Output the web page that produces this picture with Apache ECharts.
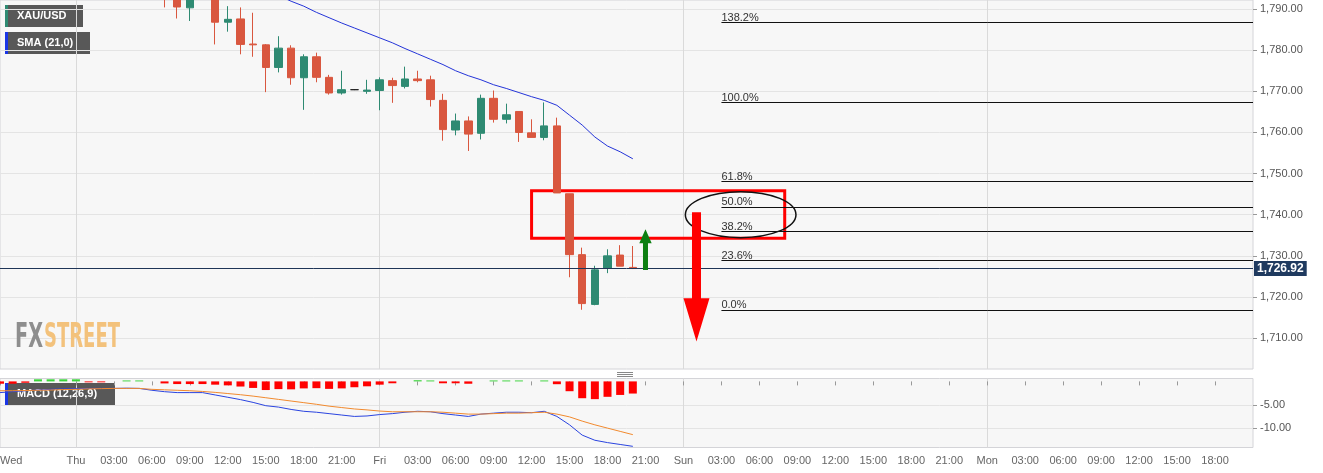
<!DOCTYPE html>
<html>
<head>
<meta charset="utf-8">
<script src="https://cdn.jsdelivr.net/npm/echarts@6/dist/echarts.min.js"></script>
<style>html,body{margin:0;padding:0;background:#fff}#c{width:1323px;height:473px}</style>
</head>
<body>
<div id="c"></div>
<script>
// ---------- data ----------
const dayNames = ['Wed', 'Thu', 'Fri', 'Sun', 'Mon'];
const startHour = 18;          // first hourly slot: Wed 18:00 (Saturday is skipped)
const hourCount = 100;         // Wed 18:00 .. Mon 21:00

const candleStart = 13;        // Thu 07:00
// [open, close, low, high]
const candles = [
  [1796.0, 1793.0, 1790.4, 1798.0],
  [1794.5, 1790.5, 1787.7, 1795.5],
  [1790.3, 1793.5, 1787.1, 1795.0],
  [1794.0, 1795.0, 1792.6, 1797.0],
  [1793.5, 1786.8, 1781.4, 1794.5],
  [1786.8, 1787.5, 1784.5, 1790.7],
  [1787.6, 1781.4, 1779.0, 1790.4],
  [1781.5, 1781.3, 1778.4, 1789.1],
  [1781.3, 1775.8, 1769.8, 1781.5],
  [1775.8, 1780.5, 1774.6, 1783.4],
  [1780.5, 1773.3, 1771.6, 1781.2],
  [1773.3, 1778.4, 1765.5, 1779.0],
  [1778.4, 1773.4, 1772.2, 1779.4],
  [1773.4, 1769.6, 1769.2, 1774.0],
  [1769.6, 1770.4, 1769.2, 1775.0],
  [1770.4, 1770.4, 1770.3, 1770.5],
  [1770.0, 1770.3, 1769.4, 1772.8],
  [1770.2, 1772.8, 1765.4, 1773.4],
  [1772.6, 1771.4, 1767.2, 1773.3],
  [1771.2, 1773.0, 1770.7, 1776.0],
  [1773.0, 1772.6, 1772.2, 1775.0],
  [1772.8, 1768.0, 1766.3, 1773.8],
  [1767.8, 1760.7, 1758.0, 1769.4],
  [1760.6, 1762.8, 1759.3, 1764.6],
  [1762.8, 1759.6, 1755.5, 1763.9],
  [1759.8, 1768.3, 1758.3, 1769.2],
  [1768.3, 1763.2, 1762.4, 1770.2],
  [1763.2, 1764.3, 1762.2, 1767.0],
  [1765.1, 1760.0, 1757.7, 1765.1],
  [1759.9, 1758.8, 1758.8, 1763.2],
  [1758.8, 1761.6, 1758.1, 1767.3],
  [1761.6, 1745.3, 1745.3, 1763.6],
  [1745.1, 1730.3, 1724.8, 1745.1],
  [1730.3, 1718.4, 1716.9, 1732.0],
  [1718.2, 1726.6, 1718.0, 1727.6],
  [1727.0, 1730.0, 1725.8, 1731.6],
  [1730.2, 1727.5, 1727.5, 1732.6],
  [1727.2, 1726.92, 1726.8, 1732.4]
];

const smaStart = 22;
const sma = [1793.3, 1791.9, 1790.7, 1789.2, 1787.9, 1786.6, 1785.4, 1784.2, 1783.0, 1781.8,
  1780.4, 1779.1, 1777.8, 1776.5, 1775.0, 1773.8, 1772.8, 1771.6, 1770.7, 1769.7,
  1768.7, 1767.8, 1766.6, 1764.2, 1761.8, 1758.9, 1756.7, 1755.3, 1753.6];

// MACD panel, from Wed 18:00
const macdLine = [-2.4, -2.2, -2.0, -1.85, -1.7, -1.6, -1.55, -1.5, -1.5, -1.5,
  -1.45, -1.5, -1.9, -2.2, -2.4, -2.4, -2.4, -2.9, -3.4, -3.9,
  -4.5, -5.2, -5.5, -6.0, -6.4, -6.6, -6.9, -7.2, -7.5, -7.4,
  -7.1, -6.9, -6.6, -6.4, -6.5, -6.9, -7.2, -7.5, -7.0, -6.8,
  -6.6, -6.6, -6.7, -6.4, -7.5, -9.3, -11.5, -12.6, -13.1, -13.5, -13.9];
const signalLine = [-2.0, -2.0, -1.95, -1.9, -1.85, -1.75, -1.7, -1.6, -1.55, -1.5,
  -1.5, -1.5, -1.7, -1.8, -1.9, -2.0, -2.15, -2.35, -2.6, -2.85,
  -3.15, -3.5, -3.85, -4.2, -4.55, -4.9, -5.3, -5.6, -5.9, -6.1,
  -6.35, -6.5, -6.5, -6.5, -6.5, -6.6, -6.8, -7.0, -7.0, -6.9,
  -6.8, -6.8, -6.7, -6.6, -7.0, -7.6, -8.5, -9.3, -10.0, -10.7, -11.4];
const histogram = [-0.5, -0.5, -0.3, 0.45, 0.45, 0.45, 0.45, -0.2, -0.2, 0,
  0.2, 0.2, 0, -0.43, -0.57, -0.57, -0.57, -0.7, -0.85, -1.1,
  -1.4, -1.85, -1.65, -1.7, -1.5, -1.45, -1.6, -1.5, -1.25, -1.05,
  -0.7, -0.4, 0, 0.25, 0.2, -0.4, -0.4, -0.5, 0, 0.2,
  0.2, 0.2, 0, 0.2, -0.6, -2.1, -3.6, -3.8, -3.3, -2.9, -2.6];

const fibLabels = ['0.0%', '23.6%', '38.2%', '50.0%', '61.8%', '100.0%', '138.2%'];
const fibLevels = [1716.9, 1728.85, 1735.9, 1741.9, 1748.05, 1767.3, 1786.7];
const fibStart = 57;   // Sun 03:00

const lastPrice = 1726.92;
const priceTicks = [1710, 1720, 1730, 1740, 1750, 1760, 1770, 1780, 1790];
const macdTicks = [-10, -5];

// drawn annotations (data coordinates)
const zoneBox = { from: 42, to: 62, top: 1745.86, bottom: 1734.29 };
const ellipseMark = { x: 58.52, rx: 4.37, y: 1740.02, ry: 5.59 };
const upArrow = { x: 51, base: 1726.59, head: 1733.08, tip: 1736.48 };
const downArrow = { x: 55.03, base: 1740.61, head: 1719.71, tip: 1709.17 };

// ---------- helpers ----------
const categories = [];
for (let i = 0; i < hourCount; i++) {
  const h = (startHour + i) % 24;
  const d = Math.floor((startHour + i) / 24);
  categories.push(dayNames[d] + ' ' + (h < 10 ? '0' : '') + h + ':00');
}
function labelFor(i) {
  const h = (startHour + i) % 24;
  const d = Math.floor((startHour + i) / 24);
  if (i === 0 || h === 0) return dayNames[d];
  return (h < 10 ? '0' : '') + h + ':00';
}
const isLabelIdx = (i) => i % 3 === 0 && i !== 3 && i < hourCount - 1;
const isDayStart = (i) => (startHour + i) % 24 === 0;
const fmtPrice = (v) => Number(v).toLocaleString('en-US', { minimumFractionDigits: 2, maximumFractionDigits: 2 });

const candleData = candles.map((c, k) => [candleStart + k, c[0], c[1], c[2], c[3]]);
const smaData = sma.map((v, k) => [smaStart + k, v]);
const macdData = macdLine.map((v, k) => [k, v]);
const signalData = signalLine.map((v, k) => [k, v]);
const histData = histogram.map((v, k) => [k, v]);

const fibMarks = fibLevels.map((v, k) => [
  { name: fibLabels[k], coord: [categories[fibStart], v],
    lineStyle: { color: '#111', width: 1, type: 'solid' },
    label: { show: true, position: 'insideStartTop', formatter: '{b}', color: '#333', fontSize: 11, distance: [0, -1] } },
  { coord: [categories[hourCount - 1], v] }
]);

function measure(text, font) {
  const cv = document.createElement('canvas').getContext('2d');
  cv.font = font;
  return cv.measureText(text).width;
}
const wmFont = 'bold 22px "DejaVu Sans Condensed", "DejaVu Sans"';
const fxScale = 28 / measure('FX', wmFont);
const stScale = 76 / measure('STREET', wmFont);

function legendBox(x, y, w, stripColor, text) {
  return {
    type: 'group', x: x, y: y, z: 20,
    children: [
      { type: 'rect', shape: { x: 0, y: 0, width: w, height: 22 }, style: { fill: 'rgba(66,66,66,0.88)' } },
      { type: 'rect', shape: { x: 0, y: 0, width: 3, height: 22 }, style: { fill: stripColor } },
      { type: 'text', x: 12, y: 11, style: { text: text, fill: '#fff', font: 'bold 11px "Liberation Sans", Arial', textVerticalAlign: 'middle' } }
    ]
  };
}

// ---------- chart ----------
const chart = echarts.init(document.getElementById('c'));
const option = {
  animation: false,
  backgroundColor: '#ffffff',
  textStyle: { fontFamily: '"Liberation Sans", Arial, sans-serif' },
  grid: [
    { left: 0, right: 70, top: 0, height: 369, outerBoundsMode: 'none', containLabel: false,
      show: true, backgroundColor: '#f7f7f7', borderColor: '#d4d4d8', borderWidth: 1 },
    { left: 0, right: 70, top: 378.5, height: 69, outerBoundsMode: 'none', containLabel: false,
      show: true, backgroundColor: '#f7f7f7', borderColor: '#d4d4d8', borderWidth: 1 }
  ],
  xAxis: [
    { type: 'category', gridIndex: 0, data: categories, boundaryGap: false,
      axisLine: { show: false }, axisTick: { show: false }, axisLabel: { show: false },
      splitLine: { show: true, interval: (i) => isDayStart(i), lineStyle: { color: '#dadada' } } },
    { type: 'category', gridIndex: 1, data: categories, boundaryGap: false,
      axisLine: { show: false },
      axisTick: { show: true, interval: (i) => isLabelIdx(i), length: 4, lineStyle: { color: '#999' } },
      axisLabel: { interval: (i) => isLabelIdx(i), formatter: (v, i) => labelFor(i), color: '#666', fontSize: 11, margin: 8, alignMinLabel: 'left' },
      splitLine: { show: true, interval: (i) => isDayStart(i), lineStyle: { color: '#dadada' } } }
  ],
  yAxis: [
    { type: 'value', gridIndex: 0, position: 'right', min: 1702.5, max: 1792.2, scale: true,
      axisLine: { show: false },
      axisTick: { show: true, length: 4, lineStyle: { color: '#999' }, customValues: priceTicks },
      axisLabel: { customValues: priceTicks, formatter: fmtPrice, color: '#555', fontSize: 11, margin: 7 },
      splitLine: { show: true, lineStyle: { color: '#e4e4e4' } } },
    { type: 'value', gridIndex: 1, position: 'right', min: -14.15, max: 0.62,
      axisLine: { show: false },
      axisTick: { show: true, length: 4, lineStyle: { color: '#999' }, customValues: macdTicks },
      axisLabel: { customValues: macdTicks, formatter: (v) => Number(v).toFixed(2), color: '#555', fontSize: 11, margin: 7 },
      splitLine: { show: true, lineStyle: { color: '#e4e4e4' } } }
  ],
  graphic: [
    legendBox(5, 5, 78, '#2e8a72', 'XAU/USD'),
    legendBox(5, 32, 85, '#1a36e6', 'SMA (21,0)'),
    legendBox(5, 383, 110, '#1a36e6', 'MACD (12,26,9)'),
    { type: 'text', x: 15, y: 321, z: 1, scaleX: fxScale, scaleY: 1.55,
      style: { text: 'FX', font: wmFont, fill: '#8e8e8e', textVerticalAlign: 'top' } },
    { type: 'text', x: 44, y: 321, z: 1, scaleX: stScale, scaleY: 1.55,
      style: { text: 'STREET', font: wmFont, fill: '#f3c27c', textVerticalAlign: 'top' } },
    { type: 'group', x: 617, y: 372, z: 20, children: [0, 2, 4].map((dy) => ({
      type: 'line', shape: { x1: 0, y1: dy + 0.5, x2: 16, y2: dy + 0.5 }, style: { stroke: '#888', lineWidth: 1 } })) }
  ],
  series: [
    { type: 'candlestick', name: 'XAU/USD', xAxisIndex: 0, yAxisIndex: 0,
      data: candleData, encode: { x: 0, y: [1, 2, 3, 4] }, barWidth: 8,
      itemStyle: { color: '#2e8a72', color0: '#d9573f', borderColor: '#2e8a72', borderColor0: '#d9573f', borderColorDoji: '#222', borderWidth: 1 },
      markLine: {
        silent: true, symbol: ['none', 'none'], animation: false,
        data: [
          { yAxis: lastPrice, lineStyle: { color: '#1f3557', width: 1, type: 'solid' },
            label: { show: true, position: 'end', formatter: fmtPrice(lastPrice), color: '#fff', fontWeight: 'bold', fontSize: 12,
              backgroundColor: '#1f3a5f', padding: [2, 3, 1, 3], distance: 1 } }
        ].concat(fibMarks)
      },
      markArea: {
        silent: true,
        itemStyle: { color: 'rgba(0,0,0,0)', borderColor: '#ff0000', borderWidth: 3 },
        data: [[{ coord: [categories[zoneBox.from], zoneBox.top] }, { coord: [categories[zoneBox.to], zoneBox.bottom] }]]
      }
    },
    { type: 'line', name: 'SMA', xAxisIndex: 0, yAxisIndex: 0, data: smaData, showSymbol: false, symbol: 'none',
      lineStyle: { color: '#2434d8', width: 1 }, z: 3 },
    { type: 'custom', name: 'annotations', xAxisIndex: 0, yAxisIndex: 0, z: 10, silent: true,
      data: [[upArrow.x, upArrow.base]],
      renderItem: function (params, api) {
        const px = (x) => {
          const f = Math.floor(x);
          const a = api.coord([f, 1740])[0], b = api.coord([f + 1, 1740])[0];
          return a + (b - a) * (x - f);
        };
        const py = (y) => api.coord([0, y])[1];
        function arrow(a, shaftHalf, headHalf, color) {
          const x = px(a.x), yb = py(a.base), yh = py(a.head), yt = py(a.tip);
          return { type: 'polygon', shape: { points: [
            [x - shaftHalf, yb], [x - shaftHalf, yh], [x - headHalf, yh], [x, yt],
            [x + headHalf, yh], [x + shaftHalf, yh], [x + shaftHalf, yb]] },
            style: { fill: color } };
        }
        const ex = px(ellipseMark.x), erx = px(ellipseMark.x + ellipseMark.rx) - ex;
        const ey = py(ellipseMark.y), ery = py(ellipseMark.y - ellipseMark.ry) - ey;
        return { type: 'group', children: [
          { type: 'ellipse', shape: { cx: ex, cy: ey, rx: erx, ry: ery }, style: { fill: 'none', stroke: '#111', lineWidth: 1.5 } },
          arrow(upArrow, 2.5, 6.2, '#0d7f12'),
          arrow(downArrow, 4.5, 13, '#ff0000')
        ] };
      }
    },
    { type: 'bar', name: 'Histogram', xAxisIndex: 1, yAxisIndex: 1, data: histData, barWidth: 8,
      itemStyle: { color: (p) => (p.value[1] >= 0 ? '#3ad43a' : '#ff0000') } },
    { type: 'line', name: 'MACD', xAxisIndex: 1, yAxisIndex: 1, data: macdData, symbol: 'none',
      lineStyle: { color: '#2a44e0', width: 1 } },
    { type: 'line', name: 'Signal', xAxisIndex: 1, yAxisIndex: 1, data: signalData, symbol: 'none',
      lineStyle: { color: '#f28a2e', width: 1 } }
  ]
};
chart.setOption(option);
</script>
</body>
</html>
